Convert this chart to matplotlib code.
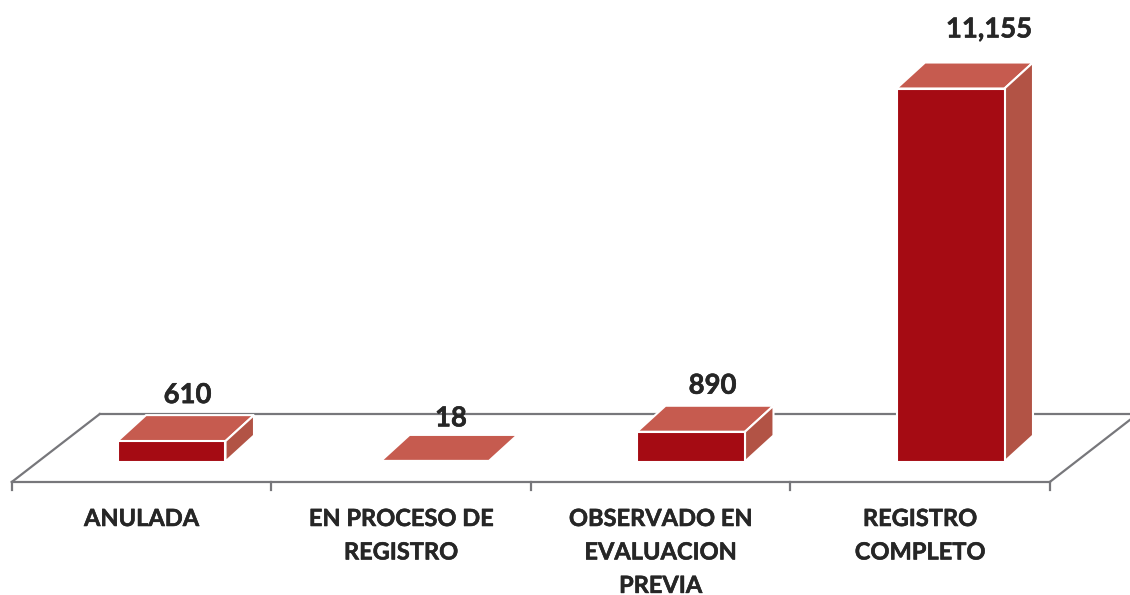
import matplotlib
matplotlib.use('Agg')
import matplotlib.pyplot as plt
import matplotlib.patheffects as pe

categorias = ['ANULADA', 'EN PROCESO DE\nREGISTRO', 'OBSERVADO EN\nEVALUACION\nPREVIA', 'REGISTRO\nCOMPLETO']
valores = [610, 18, 890, 11155]
etiquetas = ['610', '18', '890', '11,155']

ANCHO, ALTO = 1130, 595
PX_X = 259.5          # pixels por categoria
PX_Y = 373 / 11155    # pixels por unidad
X0 = 141.5            # pixel de la primera categoria
Y0 = 461.5            # pixel de la base de las barras

ROJO = '#a50b13'
ARRIBA = '#c65b4f'
LADO = '#b25345'
GRIS = '#77777b'
TEXTO = '#262626'

def dx(px):
    return px / PX_X

def dy(px):
    return px / PX_Y

fig = plt.figure(figsize=(ANCHO / 100, ALTO / 100), dpi=100)
ax = fig.add_axes([0, 0, 1, 1])
ax.set_xlim(-X0 / PX_X, (ANCHO - X0) / PX_X)
ax.set_ylim(-(ALTO - Y0) / PX_Y, Y0 / PX_Y)
ax.axis('off')

# piso
suelo = -dy(20.5)
ax.plot([-0.5, 3.5], [suelo, suelo], color=GRIS, lw=1.6, zorder=1)
ax.plot([-0.5, -0.5 + dx(88)], [suelo, suelo + dy(68)], color=GRIS, lw=1.6, zorder=1)
ax.plot([3.5, 3.5 + dx(80)], [suelo, suelo + dy(62)], color=GRIS, lw=1.6, zorder=1)
ax.plot([-0.5 + dx(88), 3.5 + dx(80)], [suelo + dy(68), suelo + dy(68)], color=GRIS, lw=1.6, zorder=1)
for i in range(5):
    ax.plot([i - 0.5, i - 0.5], [suelo, suelo - dy(8)], color=GRIS, lw=1.6, zorder=1)

# barras
desplaza = [30, 34, 30.5, 30.5]
ancho = dx(108)
fondo_x, fondo_y = dx(28.5), dy(26)
for i, v in enumerate(valores):
    centro = i + dx(desplaza[i])
    izq = centro - ancho / 2
    der = izq + ancho
    ax.fill([izq, der, der + fondo_x, izq + fondo_x], [v, v, v + fondo_y, v + fondo_y],
            facecolor=ARRIBA, edgecolor='white', lw=1.5, zorder=3)
    if v > 100:
        ax.fill([der, der + fondo_x, der + fondo_x, der], [0, fondo_y, v + fondo_y, v],
                facecolor=LADO, edgecolor='white', lw=1.5, zorder=3)
        ax.bar(centro, v, width=ancho, color=ROJO, edgecolor='white', lw=1.5, zorder=4)

# etiquetas de valor
etq_x = [46, 50, 52, 69]
etq_y = [46, 42.5, 46, 59]
grueso = [pe.withStroke(linewidth=0.4, foreground=TEXTO)]
for i, v in enumerate(valores):
    ax.text(i + dx(etq_x[i]), v + dy(etq_y[i]), etiquetas[i], ha='center', va='center',
            family='Lato', weight='bold', fontsize=19.8, color=TEXTO, zorder=5, path_effects=grueso)

# etiquetas de categoria
for i, c in enumerate(categorias):
    ax.text(i, -dy(45.5), c, ha='center', va='top', family='Lato', weight='bold',
            fontsize=17, color=TEXTO, linespacing=1.55, zorder=5, path_effects=grueso)

fig.savefig('out.png', dpi=100, facecolor='white')
